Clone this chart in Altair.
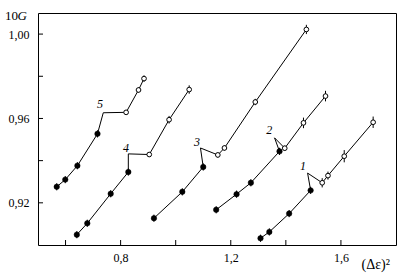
import altair as alt
import pandas as pd

# ---- data ----
curve_names = ["1", "2", "3", "4", "5"]

# filled points (lower branch)
c1_fx = [1.308, 1.340, 1.412, 1.490]
c1_fy = [0.9032, 0.9062, 0.9149, 0.9259]
c2_fx = [1.147, 1.221, 1.273, 1.377]
c2_fy = [0.9167, 0.9241, 0.9295, 0.9444]
c3_fx = [0.921, 1.024, 1.100]
c3_fy = [0.9127, 0.9252, 0.9370]
c4_fx = [0.641, 0.679, 0.764, 0.828]
c4_fy = [0.9049, 0.9103, 0.9243, 0.9346]
c5_fx = [0.568, 0.599, 0.643, 0.716]
c5_fy = [0.9276, 0.9310, 0.9376, 0.9527]

# corner (jump) point of each curve
c1_k = (1.479, 0.9341)
c2_k = (1.359, 0.9508)
c3_k = (1.090, 0.9460)
c4_k = (0.828, 0.9432)
c5_k = (0.737, 0.9627)

# open points (upper branch)
c1_ox = [1.532, 1.553, 1.612, 1.717]
c1_oy = [0.9295, 0.9329, 0.9421, 0.9582]
c1_oe = [0.0022, 0.0019, 0.0029, 0.0027]
c2_ox = [1.396, 1.464, 1.544]
c2_oy = [0.9459, 0.9579, 0.9706]
c2_oe = [0.0012, 0.0025, 0.0025]
c3_ox = [1.153, 1.177, 1.289, 1.4745]
c3_oy = [0.9427, 0.9460, 0.9678, 1.0022]
c3_oe = [0.0012, 0.0012, 0.0015, 0.0022]
c4_ox = [0.904, 0.976, 1.049]
c4_oy = [0.9429, 0.9594, 0.9737]
c4_oe = [0.0010, 0.0018, 0.0020]
c5_ox = [0.820, 0.865, 0.885]
c5_oy = [0.9629, 0.9735, 0.9789]
c5_oe = [0.0010, 0.0012, 0.0015]

filled_err = 0.0017

# curve labels
label_x = [1.4625, 1.340, 1.077, 0.820, 0.7255]
label_y = [0.9376, 0.9543, 0.9487, 0.9462, 0.9667]

x_tick_vals = [0.6, 0.8, 1.0, 1.2, 1.4, 1.6]
x_label_vals = [0.8, 1.2, 1.6]
y_tick_vals = [0.92, 0.94, 0.96, 0.98, 1.00]
y_label_vals = [0.92, 0.96, 1.00]

# ---- build tables ----
groups = [
    (c1_fx, c1_fy, c1_k, c1_ox, c1_oy, c1_oe),
    (c2_fx, c2_fy, c2_k, c2_ox, c2_oy, c2_oe),
    (c3_fx, c3_fy, c3_k, c3_ox, c3_oy, c3_oe),
    (c4_fx, c4_fy, c4_k, c4_ox, c4_oy, c4_oe),
    (c5_fx, c5_fy, c5_k, c5_ox, c5_oy, c5_oe),
]
line_rows, pt_rows = [], []
for name, (fx, fy, k, ox, oy, oe) in zip(curve_names, groups):
    seq = list(zip(fx, fy)) + [k] + list(zip(ox, oy))
    for i, (a, b) in enumerate(seq):
        line_rows.append({"curve": name, "x": a, "y": b, "o": i})
    for a, b in zip(fx, fy):
        pt_rows.append({"x": a, "y": b, "kind": "filled", "lo": b - filled_err, "hi": b + filled_err})
    for a, b, e in zip(ox, oy, oe):
        pt_rows.append({"x": a, "y": b, "kind": "open", "lo": b - e, "hi": b + e})

df_line = pd.DataFrame(line_rows)
df_pts = pd.DataFrame(pt_rows)
df_lab = pd.DataFrame({"x": label_x, "y": label_y, "t": curve_names})
df_xt = pd.DataFrame({"v": x_tick_vals})
df_yt = pd.DataFrame({"v": y_tick_vals})

FONT = "'Liberation Serif', 'Times New Roman', serif"
W, H = 358, 232

xs = alt.Scale(domain=[0.5, 1.8], nice=False, zero=False)
ys = alt.Scale(domain=[0.90, 1.01], nice=False, zero=False)

x_axis = alt.Axis(
    values=x_label_vals, ticks=False, domain=False, grid=False,
    labelExpr="replace(format(datum.value, '.1f'), '.', ',')",
    labelFont=FONT, labelFontSize=12, labelColor="black", labelPadding=7,
    title="(Δε)²", titleFont=FONT, titleFontSize=14, titleFontWeight="normal",
    titleColor="black", titleAlign="left", titleBaseline="middle",
    titleAnchor="start", titleX=323, titleY=19, titleAngle=0,
)
y_axis = alt.Axis(
    values=y_label_vals, ticks=False, domain=False, grid=False,
    labelExpr="replace(format(datum.value, '.2f'), '.', ',')",
    labelFont=FONT, labelFontSize=12, labelColor="black", labelPadding=9,
    title=None,
)

X = alt.X("x:Q", scale=xs, axis=x_axis)
Y = alt.Y("y:Q", scale=ys, axis=y_axis)

lines = alt.Chart(df_line).mark_line(color="black", strokeWidth=1).encode(
    x=X, y=Y, detail="curve:N", order="o:Q"
)
errs = alt.Chart(df_pts).mark_rule(color="black", strokeWidth=1).encode(
    x=alt.X("x:Q", scale=xs), y=alt.Y("lo:Q", scale=ys), y2="hi:Q"
)
filled = alt.Chart(df_pts).transform_filter("datum.kind == 'filled'").mark_point(
    shape="circle", filled=True, fill="black", stroke="black", strokeWidth=0.5, size=30, opacity=1
).encode(x=alt.X("x:Q", scale=xs), y=alt.Y("y:Q", scale=ys))
opens = alt.Chart(df_pts).transform_filter("datum.kind == 'open'").mark_point(
    shape="circle", filled=False, fill="white", fillOpacity=1, stroke="black", strokeWidth=1, size=22, opacity=1
).encode(x=alt.X("x:Q", scale=xs), y=alt.Y("y:Q", scale=ys))
labels = alt.Chart(df_lab).mark_text(
    font=FONT, fontStyle="italic", fontSize=12, color="black", baseline="middle", align="center"
).encode(x=alt.X("x:Q", scale=xs), y=alt.Y("y:Q", scale=ys), text="t:N")

xticks = alt.Chart(df_xt).mark_rule(color="black", strokeWidth=1).encode(
    x=alt.X("v:Q", scale=xs), y=alt.value(H), y2=alt.value(H - 5)
)
yticks = alt.Chart(df_yt).mark_rule(color="black", strokeWidth=1).encode(
    y=alt.Y("v:Q", scale=ys), x=alt.value(0), x2=alt.value(5)
)

title10 = alt.Chart(pd.DataFrame({"t": ["10"]})).mark_text(
    font=FONT, fontSize=13, color="black", align="left", baseline="alphabetic"
).encode(x=alt.value(-33), y=alt.value(7), text="t:N")
titleG = alt.Chart(pd.DataFrame({"t": ["G"]})).mark_text(
    font=FONT, fontSize=13, fontStyle="italic", color="black", align="left", baseline="alphabetic"
).encode(x=alt.value(-20.5), y=alt.value(7), text="t:N")

chart = alt.layer(
    lines, errs, filled, opens, labels, xticks, yticks, title10, titleG
).properties(
    width=W, height=H,
    autosize=alt.AutoSizeParams(type="none"),
    padding={"left": 38, "top": 13, "right": 16, "bottom": 35},
    background="white",
).configure_view(
    stroke="black", strokeWidth=1
)

chart.save("out.html", embed_options={"renderer": "svg", "actions": False})
